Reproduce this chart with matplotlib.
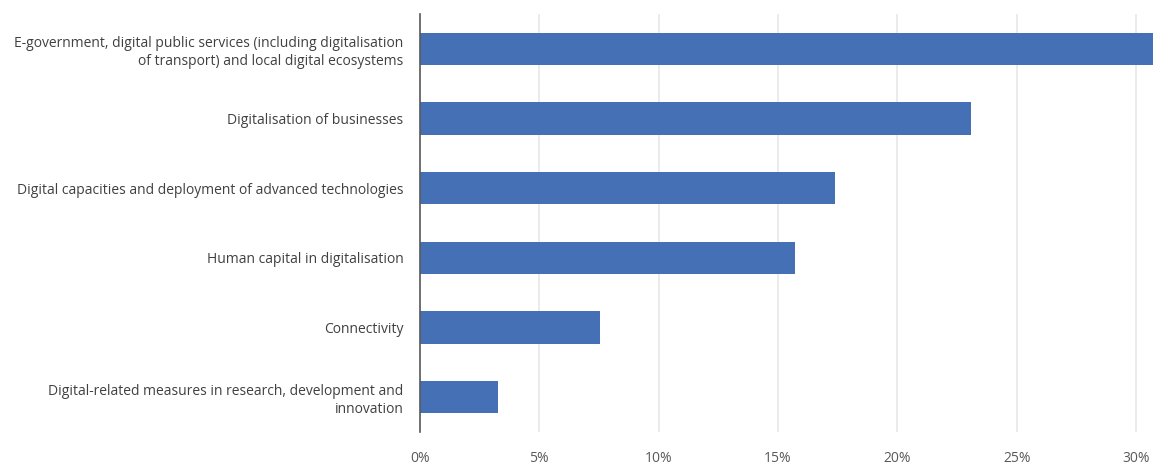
import matplotlib.pyplot as plt
from matplotlib.ticker import FuncFormatter

plt.rcParams['font.family'] = ['Open Sans', 'DejaVu Sans']

# Категорії та частки (%)
categories = [
    "E-government, digital public services (including digitalisation\nof transport) and local digital ecosystems",
    "Digitalisation of businesses",
    "Digital capacities and deployment of advanced technologies",
    "Human capital in digitalisation",
    "Connectivity",
    "Digital-related measures in research, development and\ninnovation",
]
shares = [31.5, 23.1, 17.4, 15.7, 7.55, 3.25]
x_ticks = [0, 5, 10, 15, 20, 25, 30]

fig = plt.figure(figsize=(11.53, 4.66), dpi=100)
ax = fig.add_axes([420 / 1153, 34 / 466, 733 / 1153, 418 / 466])

pos = list(range(len(categories)))
ax.barh(pos, shares, height=0.46, color='#4670B6', zorder=3)
ax.set_ylim(len(categories) - 0.5, -0.5)
ax.set_xlim(0, 30.71)

ax.set_yticks(pos)
ax.set_yticklabels(categories, fontsize=10, color='#404040', linespacing=1.25)
ax.set_xticks(x_ticks)
ax.xaxis.set_major_formatter(FuncFormatter(lambda v, _: f"{v:.0f}%"))
ax.tick_params(axis='x', length=0, pad=14, labelsize=10, labelcolor='#595959')
ax.tick_params(axis='y', length=0, pad=12)

ax.grid(axis='x', color='#e8e8e8', linewidth=1.2, zorder=0)
for s in ['top', 'right', 'bottom']:
    ax.spines[s].set_visible(False)
ax.spines['left'].set_color('#595959')
ax.spines['left'].set_linewidth(1.2)
ax.spines['left'].set_zorder(4)

fig.savefig('out.png', dpi=100)
